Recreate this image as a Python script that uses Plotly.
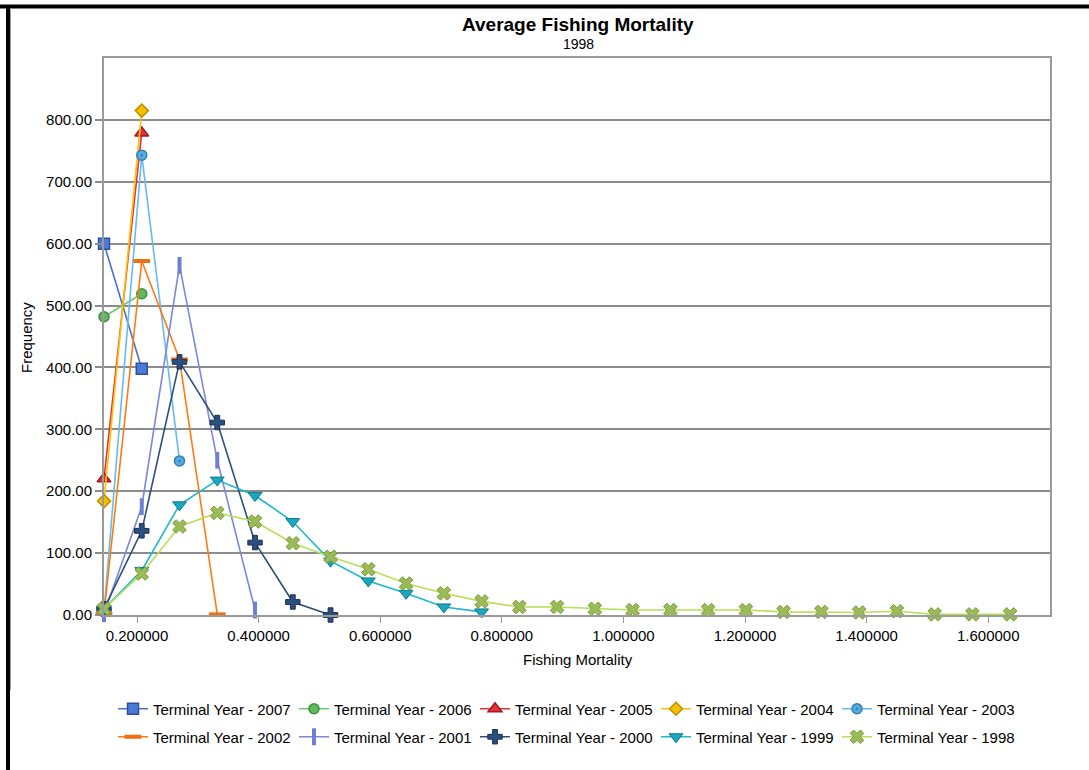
import plotly.graph_objects as go

# Bin centres (Fishing Mortality)
bins = [0.145700, 0.207800, 0.269900, 0.332000, 0.394100, 0.456200, 0.518300,
        0.580400, 0.642500, 0.704600, 0.766700, 0.828800, 0.890900, 0.953000,
        1.015100, 1.077200, 1.139300, 1.201400, 1.263500, 1.325600, 1.387700,
        1.449800, 1.511900, 1.574000, 1.636100]

ty2007 = [600, 398]
ty2006 = [482, 519]
ty2005 = [220, 779]
ty2004 = [184, 815]
ty2003 = [5, 743, 249]
ty2002 = [2, 572, 413, 1]
ty2001 = [2, 175, 565, 250, 8]
ty2000 = [10, 136, 409, 311, 117, 21, 0]
ty1999 = [10, 72, 178, 218, 193, 151, 87, 55, 35, 13, 5]
ty1998 = [10, 67, 143, 165, 151, 116, 94, 74, 51, 35, 22, 13, 13, 10, 8, 8,
          8, 8, 5, 5, 4, 6, 1, 1, 1]

x_ticks = [0.2, 0.4, 0.6, 0.8, 1.0, 1.2, 1.4, 1.6]
y_ticks = [0, 100, 200, 300, 400, 500, 600, 700, 800]

series = [
    ("Terminal Year - 2007", ty2007, "#4F6FC8", "#4A7BD8", "#2E4FA0", "square", 11, 1.5),
    ("Terminal Year - 2006", ty2006, "#6CCB6C", "#5DBB5D", "#3F8F3F", "circle", 10, 1.5),
    ("Terminal Year - 2005", ty2005, "#E8303C", "#E0303A", "#A01A25", "triangle-up", 12, 1.5),
    ("Terminal Year - 2004", ty2004, "#FFC000", "#F5C000", "#C09000", "diamond", 10, 1.5),
    ("Terminal Year - 2003", ty2003, "#66BBF0", "#5AAAE0", "#2F7FB8", "circle-dot", 10, 1.5),
    ("Terminal Year - 2002", ty2002, "#FF7A10", "#F07010", "#C05000", "line-ew", 12, 4),
    ("Terminal Year - 2001", ty2001, "#7C86DC", "#7080D0", "#4A55A8", "line-ns", 12, 4),
    ("Terminal Year - 2000", ty2000, "#2C4E7C", "#2C4E80", "#1A3050", "cross", 12, 1),
    ("Terminal Year - 1999", ty1999, "#1CB8CC", "#18A8C0", "#107888", "triangle-down", 12, 1),
    ("Terminal Year - 1998", ty1998, "#B8E058", "#9BBB59", "#7A9A38", "x", 12, 1),
]

fig = go.Figure()
for i, (name, vals, lcol, mfill, mline, sym, msize, mlw) in enumerate(series):
    is_line_sym = sym in ("line-ew", "line-ns")
    fig.add_trace(go.Scatter(
        x=bins[:len(vals)], y=vals, name=name, mode="lines+markers",
        line=dict(color=lcol, width=1.6),
        marker=dict(symbol=sym, size=msize,
                    color=mfill,
                    line=dict(color=(mfill if is_line_sym else mline), width=mlw)),
        cliponaxis=False,
        legend="legend" if i < 5 else "legend2",
    ))

FONT = "Liberation Sans, Arial, sans-serif"
L, R, T, B = 104, 1050, 58, 615
W, H = 1089, 770
pw, ph = R - L, B - T


def px(xp):
    return (xp - L) / pw


def py(yp):
    return (B - yp) / ph


leg_common = dict(orientation="h", x=px(113), xanchor="left", yanchor="middle",
                  font=dict(family=FONT, size=15, color="black"),
                  entrywidth=136, entrywidthmode="pixels",
                  itemwidth=30, bgcolor="rgba(0,0,0,0)")

fig.update_layout(
    width=W, height=H,
    margin=dict(l=L, r=W - R, t=T, b=H - B, autoexpand=False),
    paper_bgcolor="white", plot_bgcolor="white",
    font=dict(family=FONT, size=15, color="black"),
    showlegend=True,
    legend=dict(y=py(709), **leg_common),
    legend2=dict(y=py(737), **leg_common),
    xaxis=dict(range=[0.1457, 1.7016], tickvals=x_ticks, tickformat=".6f",
               showgrid=False, zeroline=False, showline=True, linecolor="#9A9A9A",
               linewidth=2, mirror=True, ticks="outside", ticklen=6, tickwidth=1,
               tickcolor="#9A9A9A", tickfont=dict(size=15)),
    yaxis=dict(range=[0, 900], tickvals=y_ticks, tickformat=".2f",
               showgrid=True, gridcolor="#8C8C8C", gridwidth=1.5, zeroline=False,
               showline=True, linecolor="#9A9A9A", linewidth=2, mirror=True,
               ticks="outside", ticklen=7, tickwidth=1.5, tickcolor="#8C8C8C",
               tickfont=dict(size=15)),
    annotations=[
        dict(text="<b>Average Fishing Mortality</b>", xref="paper", yref="paper",
             x=px(578), y=py(24), xanchor="center", yanchor="middle", showarrow=False,
             font=dict(family=FONT, size=19, color="black")),
        dict(text="1998", xref="paper", yref="paper", x=px(578), y=py(44),
             xanchor="center", yanchor="middle", showarrow=False,
             font=dict(family=FONT, size=14, color="black")),
        dict(text="Frequency", xref="paper", yref="paper", x=px(26), y=py(338),
             xanchor="center", yanchor="middle", showarrow=False, textangle=-90,
             font=dict(family=FONT, size=15, color="black")),
        dict(text="Fishing Mortality", xref="paper", yref="paper", x=px(578), y=py(659),
             xanchor="center", yanchor="middle", showarrow=False,
             font=dict(family=FONT, size=15, color="black")),
    ],
    shapes=[
        dict(type="line", xref="paper", yref="paper", x0=px(0), x1=px(W), y0=py(6.5), y1=py(6.5),
             line=dict(color="black", width=4)),
        dict(type="line", xref="paper", yref="paper", x0=px(8), x1=px(8), y0=py(5), y1=py(W),
             line=dict(color="black", width=4)),
        dict(type="line", xref="paper", yref="paper", x0=px(10.5), x1=px(10.5), y0=py(8), y1=py(690),
             line=dict(color="#A0A0A0", width=1)),
    ],
)

fig.write_html("out.html")
